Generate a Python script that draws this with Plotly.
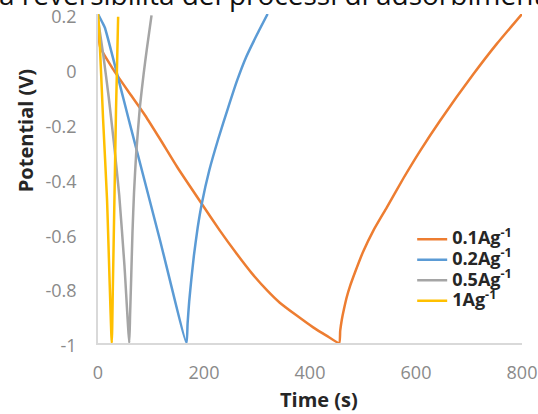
import plotly.graph_objects as go

# Galvanostatic charge/discharge curves at four current densities
labels = ["0.1Ag<sup>-1</sup>", "0.2Ag<sup>-1</sup>", "0.5Ag<sup>-1</sup>", "1Ag<sup>-1</sup>"]
colors = ["#ED7D31", "#5B9BD5", "#A5A5A5", "#FFC000"]

t_01 = [0, 4, 28, 60, 89, 117, 150, 196, 230, 260, 290, 320, 343, 375, 406, 431, 455,
        457, 460, 464, 469, 476, 485, 500, 520, 545, 576, 607.5, 645, 708, 752, 800]
v_01 = [0.15, 0.08, 0.0, -0.09, -0.17, -0.256, -0.36, -0.493, -0.59, -0.67, -0.745, -0.81,
        -0.853, -0.9, -0.943, -0.973, -1.0,
        -0.955, -0.915, -0.877, -0.835, -0.79, -0.742, -0.668, -0.588, -0.505, -0.40, -0.30,
        -0.19, -0.02, 0.09, 0.2]

t_02 = [0, 8, 13, 60, 117, 167,
        169, 172, 176, 181, 188, 196, 210, 227, 245, 262, 280, 300, 320]
v_02 = [0.2, 0.17, 0.15, -0.2, -0.625, -1.0,
        -0.93, -0.85, -0.77, -0.68, -0.58, -0.49, -0.37, -0.255, -0.145, -0.045, 0.045,
        0.125, 0.2]

t_05 = [0, 10, 20, 30, 40, 50, 59,
        60.5, 62.5, 65, 68, 72, 79, 86, 92, 101]
v_05 = [0.18, 0.05, -0.1, -0.27, -0.46, -0.72, -1.0,
        -0.9, -0.77, -0.6, -0.45, -0.31, -0.14, -0.02, 0.07, 0.195]

t_1 = [0, 2, 9.5, 17, 26,
       28, 31, 34, 38]
v_1 = [0.2, 0.15, -0.18, -0.475, -1.0,
       -0.8, -0.475, -0.15, 0.19]

x_ticks = [0, 200, 400, 600, 800]
y_ticks = [-1, -0.8, -0.6, -0.4, -0.2, 0, 0.2]
y_tick_text = ["-1", "-0.8", "-0.6", "-0.4", "-0.2", "0", "0.2"]

series = [(t_01, v_01), (t_02, v_02), (t_05, v_05), (t_1, v_1)]

fig = go.Figure()
for (t, v), name, c in zip(series, labels, colors):
    fig.add_trace(go.Scatter(
        x=t, y=v, mode="lines",
        name='<span style="font-size:18px"><b>' + name + "</b></span>",
        line=dict(color=c, width=2.5, shape="spline", smoothing=0.5),
    ))

axis_font = dict(family="Open Sans", size=18, color="#8a8a8a")

fig.update_layout(
    width=538, height=414,
    margin=dict(l=98, r=16, t=14, b=71),
    paper_bgcolor="white", plot_bgcolor="white",
    showlegend=True,
    legend=dict(
        x=0.741, y=0.362, xanchor="left", yanchor="top",
        bgcolor="rgba(0,0,0,0)", tracegroupgap=0,
        font=dict(family="Open Sans", size=13.5, color="#262626"),
    ),
    xaxis=dict(
        range=[0, 800], tickvals=x_ticks, showgrid=False, zeroline=False,
        showline=True, linecolor="#d9d9d9", linewidth=1.5, ticks="",
        tickfont=axis_font, ticklabelstandoff=13, automargin=False,
    ),
    yaxis=dict(
        range=[-1, 0.2], tickvals=y_ticks, ticktext=y_tick_text,
        showgrid=False, zeroline=False,
        showline=True, linecolor="#d9d9d9", linewidth=1.5, ticks="",
        tickfont=axis_font, ticklabelstandoff=16, ticklabelshift=3, automargin=False,
    ),
    annotations=[
        dict(text="<b>Time (s)</b>", xref="paper", yref="paper",
             x=0.521, y=-0.173, xanchor="center", yanchor="middle", showarrow=False,
             font=dict(family="Open Sans", size=20, color="#262626")),
        dict(text="<b>Potential (V)</b>", xref="paper", yref="paper", textangle=-90,
             x=-0.172, y=0.644, xanchor="center", yanchor="middle", showarrow=False,
             font=dict(family="Open Sans", size=20, color="#262626")),
        dict(text="a reversibilità dei processi di adsorbimento", xref="paper", yref="paper",
             x=-0.238, y=1.06, xanchor="left", yanchor="middle", showarrow=False,
             font=dict(family="Open Sans", size=28, color="#111111")),
    ],
)

fig.write_html("out.html")
